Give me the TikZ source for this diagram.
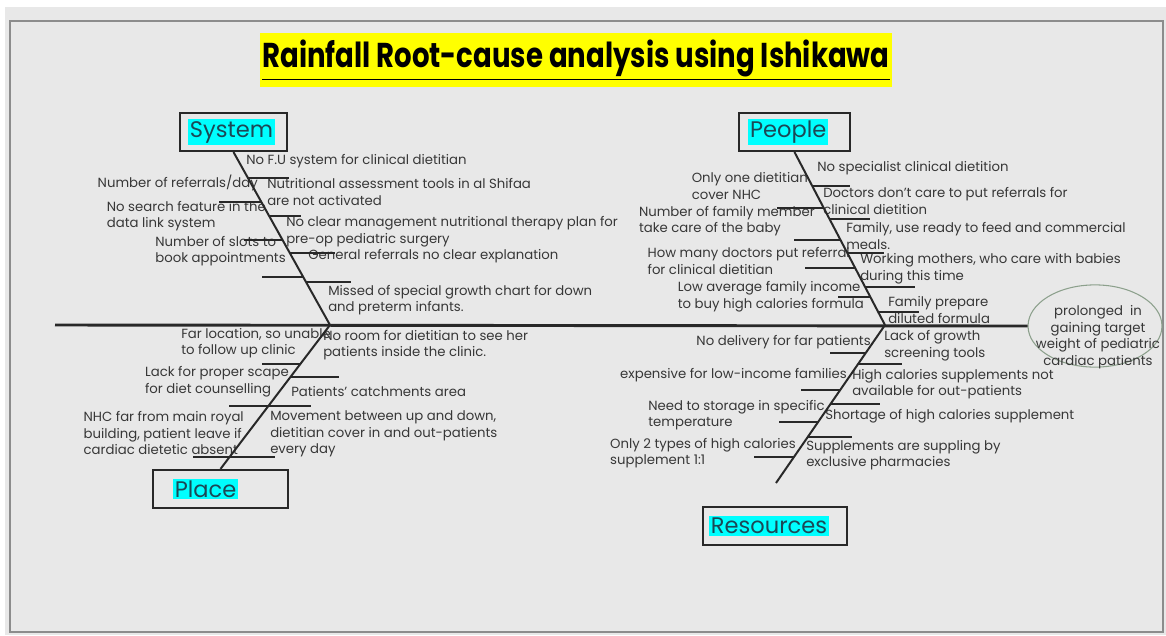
\documentclass[tikz,border=0pt]{standalone}
\usepackage{fontspec}
\setmainfont{Poppins}
\newfontfamily\titlefont[FakeStretch=0.80]{Poppins}
\usetikzlibrary{shapes.geometric}
\definecolor{bggray}{RGB}{232,232,232}
\definecolor{framegray}{RGB}{140,140,140}
\definecolor{boneblack}{RGB}{40,40,40}
\definecolor{labelgray}{RGB}{55,55,55}
\definecolor{hlcyan}{RGB}{0,255,255}
\definecolor{hlyellow}{RGB}{255,255,0}
\definecolor{cattext}{RGB}{28,72,86}
\definecolor{effectline}{RGB}{140,160,140}
\newcommand{\cathl}[1]{{\fboxsep=1.5pt\colorbox{hlcyan}{#1}}}

\begin{document}
\begin{tikzpicture}[x=0.0265cm, y=0.0265cm,
  cat/.style={draw=boneblack, line width=1.8pt, fill=bggray, inner xsep=6pt, inner ysep=0pt, minimum height=28.5pt, align=left, text=cattext, font=\fontsize{17}{20}\selectfont},
  cause/.style={inner sep=0pt, align=left, text=labelgray, font=\fontsize{10}{12.5}\selectfont},
  bone/.style={draw=boneblack, line width=1.5pt},
  rib/.style={draw=boneblack, line width=1.5pt}]
\useasboundingbox (0,0) rectangle (1166,-635);
\fill [white] (0,0) rectangle (1166,-635);
\fill [bggray] (5,-7) rectangle (1166,-635);
\draw [framegray, line width=1.2pt] (10,-21) rectangle (1163,-632);
\node [fill=hlyellow, inner xsep=2pt, inner ysep=5pt, font=\titlefont\bfseries\fontsize{26}{30}\selectfont] (title) at (576,-60) {\underline{Rainfall Root-cause analysis using Ishikawa}};

\node [cat, text width=68.7pt] (system) at (233.5,-132) {\cathl{System}};
\node [cat, inner xsep=6.8pt, text width=70pt] (people) at (794.5,-132) {\cathl{People}};
\node [cat, inner xsep=15pt, text width=71.8pt] (place) at (220.5,-489) {\cathl{Place}};
\node [cat, inner xsep=4.5pt, text width=99.6pt] (resources) at (775,-526) {\cathl{Resources}};
\node [ellipse, draw=effectline, line width=0.8pt, minimum width=101pt, minimum height=62pt] (effect) at (1095,-326) {};
\node [cause, align=center] (effecttxt) at (1098,-337) {prolonged~ in\\gaining target\\weight of pediatric\\cardiac patients};

\node [cause, anchor=west] (nofu) at (246,-161) {No F.U system for clinical dietitian};
\node [cause, anchor=east] (referrals) at (258,-183) {Number of referrals/day};
\node [cause, anchor=west] (tools) at (267,-192) {Nutritional assessment tools in al Shifaa\\are not activated};
\node [cause, anchor=east] (search) at (266,-216) {No search feature in the\\data link system};
\node [cause, anchor=west] (plan) at (286,-232) {No clear management nutritional therapy plan for\\pre-op pediatric surgery};
\node [cause, anchor=east] (slots) at (286,-251) {Number of slots to\\book appointments};
\node [cause, anchor=west] (general) at (308,-256) {General referrals no clear explanation};
\node [cause, anchor=west] (growth) at (328,-300) {Missed of special growth chart for down\\and preterm infants.};

\node [cause, anchor=west] (specialist) at (817,-168) {No specialist clinical dietition};
\node [cause, anchor=east] (onlyone) at (808,-186) {Only one dietitian\\cover NHC};
\node [cause, anchor=west] (doctors) at (823,-201) {Doctors don't care to put referrals for\\clinical dietition};
\node [cause, anchor=east] (member) at (815,-221) {Number of family member\\take care of the baby};
\node [cause, anchor=west] (ready) at (846,-236) {Family, use ready to feed and commercial\\meals.};
\node [cause, anchor=east] (howmany) at (850,-261) {How many doctors put referral\\for clinical dietitian};
\node [cause, anchor=west] (mothers) at (860,-269) {Working mothers, who care with babies\\during this time};
\node [cause, anchor=east] (income) at (864,-297) {Low average family income\\to buy high calories formula};
\node [cause, anchor=west] (diluted) at (888,-310) {Family prepare\\diluted formula};

\node [cause, anchor=east] (farloc) at (331,-343) {Far location, so unable\\to follow up clinic};
\node [cause, anchor=west] (noroom) at (323,-345) {No room for dietitian to see her\\patients inside the clinic.};
\node [cause, anchor=east] (scape) at (289,-382) {Lack for proper scape\\for diet counselling};
\node [cause, anchor=west] (catchment) at (291,-392) {Patients' catchments area};
\node [cause, anchor=east] (nhc) at (244,-433) {NHC far from main royal\\building, patient leave if\\cardiac dietetic absent};
\node [cause, anchor=west] (movement) at (270,-434) {Movement between up and down,\\dietitian cover in and out-patients\\every day};

\node [cause, anchor=east] (delivery) at (871,-342) {No delivery for far patients};
\node [cause, anchor=west] (screening) at (884,-346) {Lack of growth\\screening tools};
\node [cause, anchor=east] (expensive) at (847,-375) {expensive for low-income families};
\node [cause, anchor=west] (notavail) at (852,-384) {High calories supplements not\\available for out-patients};
\node [cause, anchor=east] (storage) at (825,-415) {Need to storage in specific\\temperature};
\node [cause, anchor=west] (shortage) at (825,-416) {Shortage of high calories supplement};
\node [cause, anchor=east] (twotypes) at (796,-453) {Only 2 types of high calories\\supplement 1:1};
\node [cause, anchor=west] (pharmacies) at (806,-455) {Supplements are suppling by\\exclusive pharmacies};

\coordinate (tail) at (55,-325);
\coordinate (jsys) at (330,-325);
\coordinate (jpeo) at (885,-325);
\coordinate (resend) at (776,-483);
\draw [bone, line width=2.2pt] (tail) -- (effect.west);
\draw [bone] (system.south) -- (jsys);
\draw [bone] (people.south) -- (jpeo);
\draw [bone] (jsys) -- (place.north);
\draw [bone] (jpeo) -- (resend);

\path (system.south) -- (jsys) coordinate [pos=0.149] (s1) coordinate [pos=0.287] (s2) coordinate [pos=0.368] (s3) coordinate [pos=0.511] (s4) coordinate [pos=0.586] (s5) coordinate [pos=0.724] (s6) coordinate [pos=0.753] (s7);
\draw [rib] (s1) -- ++(41,0);
\draw [rib] (s2) -- ++(-42,0);
\draw [rib] (s3) -- ++(32,0);
\draw [rib] (s4) -- ++(-39,0);
\draw [rib] (s5) -- ++(45,0);
\draw [rib] (s6) -- ++(-41,0);
\draw [rib] (s7) -- ++(45,0);

\path (people.south) -- (jpeo) coordinate [pos=0.195] (p1) coordinate [pos=0.322] (p2) coordinate [pos=0.385] (p3) coordinate [pos=0.511] (p4) coordinate [pos=0.586] (p5) coordinate [pos=0.672] (p6) coordinate [pos=0.782] (p7) coordinate [pos=0.839] (p8) coordinate [pos=0.925] (p9);
\draw [rib] (p1) -- ++(38,0);
\draw [rib] (p2) -- ++(-47,0);
\draw [rib] (p3) -- ++(41,0);
\draw [rib] (p4) -- ++(-47,0);
\draw [rib] (p5) -- ++(36,0);
\draw [rib] (p6) -- ++(-50,0);
\draw [rib] (p7) -- ++(50,0);
\draw [rib] (p8) -- ++(-32,0);
\draw [rib] (p9) -- ++(41,0);

\path (jsys) -- (place.north) coordinate [pos=0.274] (q1) coordinate [pos=0.363] (q2) coordinate [pos=0.562] (q3) coordinate [pos=0.918] (q4);
\draw [rib] (q1) -- ++(-38,0);
\draw [rib] (q2) -- ++(49,0);
\draw [rib] (q3) ++(-39,0) -- ++(82,0);
\draw [rib] (q4) ++(-36,0) -- ++(82,0);

\path (jpeo) -- (resend) coordinate [pos=0.177] (r1) coordinate [pos=0.247] (r2) coordinate [pos=0.411] (r3) coordinate [pos=0.5] (r4) coordinate [pos=0.614] (r5) coordinate [pos=0.709] (r6) coordinate [pos=0.835] (r7);
\draw [rib] (r1) -- ++(-36,0);
\draw [rib] (r2) -- ++(44,0);
\draw [rib] (r3) -- ++(-39,0);
\draw [rib] (r4) -- ++(49,0);
\draw [rib] (r5) -- ++(-39,0);
\draw [rib] (r6) -- ++(44,0);
\draw [rib] (r7) -- ++(-40,0);
\end{tikzpicture}
\end{document}
